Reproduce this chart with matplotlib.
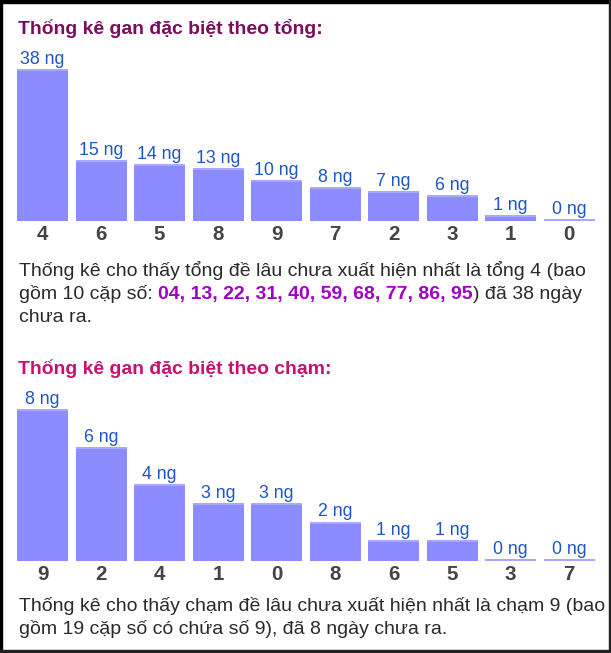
import matplotlib
matplotlib.use("Agg")
import matplotlib.pyplot as plt
from matplotlib.patches import Rectangle

# ---- data ----
tong_labels = ["4", "6", "5", "8", "9", "7", "2", "3", "1", "0"]
tong_values = [38, 15, 14, 13, 10, 8, 7, 6, 1, 0]
cham_labels = ["9", "2", "4", "1", "0", "8", "6", "5", "3", "7"]
cham_values = [8, 6, 4, 3, 3, 2, 1, 1, 0, 0]

title1 = "Thống kê gan đặc biệt theo tổng:"
title2 = "Thống kê gan đặc biệt theo chạm:"
para1_line1 = "Thống kê cho thấy tổng đề lâu chưa xuất hiện nhất là tổng 4 (bao"
para1_line2_pre = "gồm 10 cặp số: "
para1_numbers = "04, 13, 22, 31, 40, 59, 68, 77, 86, 95"
para1_line2_post = ") đã 38 ngày"
para1_line3 = "chưa ra."
para2_line1 = "Thống kê cho thấy chạm đề lâu chưa xuất hiện nhất là chạm 9 (bao"
para2_line2 = "gồm 19 cặp số có chứa số 9), đã 8 ngày chưa ra."
unit = "ng"

# ---- style ----
W, H = 611, 653
DPI = 100
plt.rcParams['font.family'] = ['Liberation Sans', 'DejaVu Sans']
BAR = "#8c8cff"
BAR_TOP = "#a8a8ff"
VAL_C = "#1d56c9"
CAT_C = "#444444"
TXT_C = "#2a2a2a"
TITLE1_C = "#7b0d5e"
TITLE2_C = "#c8116f"
NUM_C = "#a000c4"
TITLE_FS = 13.95
TXT_FS = 14.0
VAL_FS = 12.8
CAT_FS = 14.8

fig = plt.figure(figsize=(W / DPI, H / DPI), dpi=DPI)
fig.patch.set_facecolor("white")


def fy(y):
    return 1 - y / H


def fx(x):
    return x / W


def bar_chart(values, labels, baseline_px, height_px):
    step = 58.5
    first_center = 42.5
    left = first_center - step / 2
    ax = fig.add_axes([fx(left), fy(baseline_px), step * len(values) / W, height_px / H])
    ax.set_xlim(-0.5, len(values) - 0.5)
    vmax = max(values)
    strip_px = 2.0
    ppu = (height_px - strip_px) / vmax
    ax.set_ylim(0, height_px / ppu)
    strip = strip_px / ppu
    xs = list(range(len(values)))
    ax.bar(xs, values, width=51 / step, color=BAR, linewidth=0)
    ax.bar(xs, [strip] * len(values), bottom=values, width=51 / step, color=BAR_TOP, linewidth=0)
    for i, v in enumerate(values):
        ax.annotate(f"{v} {unit}", (i, v + strip), xytext=(0, 5), textcoords="offset pixels",
                    ha="center", va="baseline", fontsize=VAL_FS, color=VAL_C)
        ax.annotate(labels[i], (i, 0), xytext=(0, -19), textcoords="offset pixels",
                    ha="center", va="baseline", fontsize=CAT_FS, fontweight="bold", color=CAT_C)
    ax.axis("off")
    return ax


# Chart 1
fig.text(fx(18), fy(34), title1, fontsize=TITLE_FS, fontweight="bold", color=TITLE1_C, va="baseline")
bar_chart(tong_values, tong_labels, 221, 152)

fig.text(fx(19), fy(276), para1_line1, fontsize=TXT_FS, color=TXT_C, va="baseline")
renderer = fig.canvas.get_renderer()
t = fig.text(fx(19), fy(299), para1_line2_pre, fontsize=TXT_FS, color=TXT_C, va="baseline")
bb = t.get_window_extent(renderer)
t2 = fig.text(bb.x1 / W, fy(299), para1_numbers, fontsize=TXT_FS, fontweight="bold",
              color=NUM_C, va="baseline")
bb2 = t2.get_window_extent(renderer)
fig.text(bb2.x1 / W, fy(299), para1_line2_post, fontsize=TXT_FS, color=TXT_C, va="baseline")
fig.text(fx(19), fy(322), para1_line3, fontsize=TXT_FS, color=TXT_C, va="baseline")

# Chart 2
fig.text(fx(18), fy(374), title2, fontsize=TITLE_FS, fontweight="bold", color=TITLE2_C, va="baseline")
bar_chart(cham_values, cham_labels, 561, 152)
fig.text(fx(19), fy(611), para2_line1, fontsize=TXT_FS, color=TXT_C, va="baseline")
fig.text(fx(19), fy(634), para2_line2, fontsize=TXT_FS, color=TXT_C, va="baseline")

# Frame
for (x0, y0, w, h, c) in [(0, 0, W, 3, "#000000"), (0, 0, 2, H, "#000000"),
                          (W - 2, 0, 2, H, "#222222"), (0, H - 3, W, 3, "#222222")]:
    fig.patches.append(Rectangle((x0 / W, 1 - (y0 + h) / H), w / W, h / H,
                                 transform=fig.transFigure, color=c, zorder=10))

fig.savefig("out.png", dpi=DPI)
